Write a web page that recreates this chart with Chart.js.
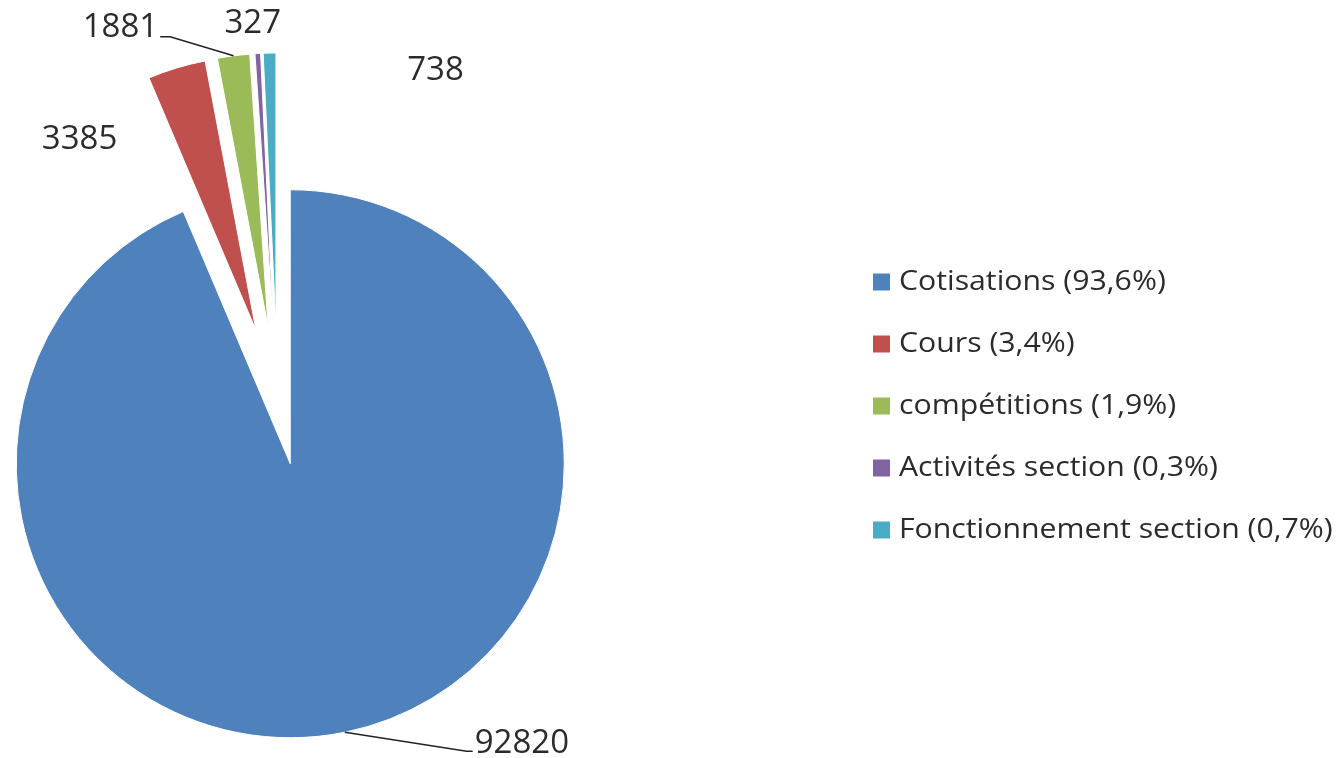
<!DOCTYPE html>
<html>
<head>
<meta charset="utf-8">
<script src="https://cdn.jsdelivr.net/npm/chart.js@4"></script>
<style>
html,body{margin:0;padding:0;background:#fff;overflow:hidden}
#wrap{width:1342px;height:758px;position:relative}
</style>
</head>
<body>
<div id="wrap"><canvas id="c" width="1342" height="758"></canvas></div>
<script>
// ---- data ----
const categories = ['Cotisations', 'Cours', 'compétitions', 'Activités section', 'Fonctionnement section'];
const values = [92820, 3385, 1881, 327, 738];
const colors = ['#4F81BD', '#C0504D', '#9BBB59', '#8064A2', '#4BACC6'];

const total = values.reduce((a, b) => a + b, 0);
const pctText = v => (Math.round(v / total * 1000) / 10).toFixed(1).replace('.', ',');
const legendLabels = categories.map((c, i) => c + ' (' + pctText(values[i]) + '%)');

const FONT = '"Open Sans", Lato, sans-serif';
const TEXT_COLOR = '#2b2b2b';

// explode slices along their bisector
const explodePlugin = {
  id: 'explode',
  afterDatasetUpdate(chart, args, opts) {
    args.meta.data.forEach((arc, i) => {
      const d = (opts.distances && opts.distances[i]) || 0;
      const mid = (arc.startAngle + arc.endAngle) / 2;
      arc.x += Math.cos(mid) * d;
      arc.y += Math.sin(mid) * d;
    });
  }
};

// value labels with leader lines
const valueLabelPlugin = {
  id: 'valueLabels',
  afterDatasetsDraw(chart, args, opts) {
    const ctx = chart.ctx;
    const meta = chart.getDatasetMeta(0);
    ctx.save();
    ctx.font = opts.fontSize + 'px ' + FONT;
    ctx.fillStyle = TEXT_COLOR;
    ctx.textAlign = 'center';
    ctx.textBaseline = 'middle';
    meta.data.forEach((arc, i) => {
      const mid = (arc.startAngle + arc.endAngle) / 2;
      const ax = arc.x + Math.cos(mid) * arc.outerRadius;
      const ay = arc.y + Math.sin(mid) * arc.outerRadius;
      const off = opts.offsets[i];
      const lx = ax + off[0], ly = ay + off[1];
      const txt = String(values[i]);
      const w = ctx.measureText(txt).width;
      ctx.fillText(txt, lx, ly);
      const leader = opts.leaders[i];
      if (leader) {
        ctx.beginPath();
        ctx.strokeStyle = '#222';
        ctx.lineWidth = 1.5;
        const yy = ly + leader.dy;
        if (leader.side === 'left') {
          const ex = lx - w / 2 - 2;
          ctx.moveTo(ax, ay);
          ctx.lineTo(ex - leader.elbow, yy);
          ctx.lineTo(ex, yy);
        } else {
          const ex = lx + w / 2 + 2;
          ctx.moveTo(ax, ay);
          ctx.lineTo(ex + leader.elbow, yy);
          ctx.lineTo(ex, yy);
        }
        ctx.stroke();
      }
    });
    ctx.restore();
  }
};

// legend on the right
const sideLegendPlugin = {
  id: 'sideLegend',
  afterDraw(chart, args, opts) {
    const ctx = chart.ctx;
    ctx.save();
    ctx.font = opts.fontSize + 'px ' + FONT;
    ctx.textBaseline = 'middle';
    ctx.textAlign = 'left';
    legendLabels.forEach((lab, i) => {
      const cy = opts.top + i * opts.spacing;
      ctx.fillStyle = colors[i];
      ctx.fillRect(opts.left, cy - opts.box / 2, opts.box, opts.box);
      ctx.fillStyle = TEXT_COLOR;
      ctx.save();
      ctx.translate(opts.left + opts.box + opts.gap, cy);
      ctx.scale(opts.stretch, 1);
      ctx.fillText(lab, 0, 0);
      ctx.restore();
    });
    ctx.restore();
  }
};

new Chart(document.getElementById('c'), {
  type: 'pie',
  data: {
    labels: categories,
    datasets: [{
      data: values,
      backgroundColor: colors,
      borderColor: '#ffffff',
      borderWidth: 1,
      clip: false
    }]
  },
  options: {
    responsive: false,
    animation: false,
    events: [],
    radius: 274,
    layout: { padding: { left: 0, right: 786.6, top: 46, bottom: 0 } },
    plugins: {
      legend: { display: false },
      tooltip: { enabled: false },
      explode: { distances: [63, 75, 75, 75, 75] },
      valueLabels: {
        fontSize: 33,
        offsets: [[177, 11], [-97, 72], [-113, -28], [-5, -30], [166, 17]],
        leaders: [{ side: 'left', dy: 8, elbow: 6 }, null, { side: 'right', dy: 9, elbow: 10 }, null, null]
      },
      sideLegend: { left: 873, top: 282, spacing: 62, box: 17, gap: 9, fontSize: 28, stretch: 1.08 }
    }
  },
  plugins: [explodePlugin, valueLabelPlugin, sideLegendPlugin]
});
</script>
</body>
</html>
